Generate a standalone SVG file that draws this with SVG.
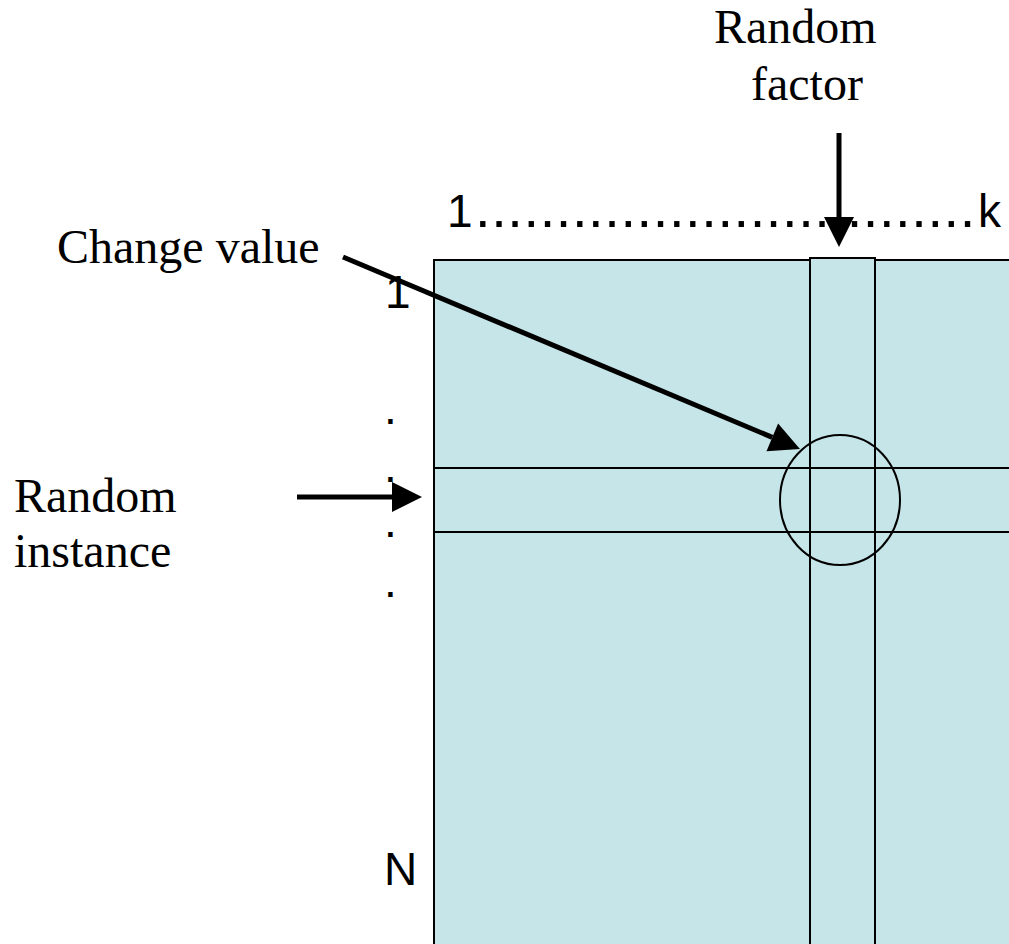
<svg xmlns="http://www.w3.org/2000/svg" width="1009" height="944" viewBox="0 0 1009 944">
<style>
.serif{font-family:"Liberation Serif","Times New Roman",serif;font-size:48px;fill:#000}
.sans{font-family:"Liberation Sans",Arial,sans-serif;font-size:46px;fill:#000}
.dots{font-size:56px;letter-spacing:0.6px}
.cell{fill:#C6E5E8;stroke:#000;stroke-width:2}
.band{fill:none;stroke:#000;stroke-width:2}
.arrow{stroke:#000;stroke-width:5;fill:none;marker-end:url(#ah)}
</style>
<defs>
<marker id="ah" markerUnits="userSpaceOnUse" markerWidth="30" markerHeight="30" refX="0" refY="15" orient="auto" overflow="visible">
<path d="M0,0 L30,15 L0,30 z" fill="#000"/>
</marker>
</defs>
<rect width="1009" height="944" fill="#fff"/>
<g id="matrix">
<rect class="cell" x="434" y="260" width="600" height="700"/>
</g>
<g id="column">
<rect class="cell" x="810" y="258" width="65" height="700"/>
</g>
<g id="row">
<rect class="band" x="434" y="468" width="600" height="64"/>
</g>
<g id="cell-circle">
<ellipse cx="840" cy="500" rx="60" ry="65" fill="none" stroke="#000" stroke-width="2"/>
</g>
<g id="axis-labels">
<text class="sans" x="447" y="227">1</text>
<text class="sans dots" x="475" y="227">...............................</text>
<text class="sans" x="978" y="227">k</text>
<text class="sans" x="385" y="308">1</text>
<text class="sans" x="384" y="424">.</text>
<text class="sans" x="384" y="482">.</text>
<text class="sans" x="384" y="537">.</text>
<text class="sans" x="384" y="597">.</text>
<text class="sans" x="384" y="885">N</text>
</g>
<g id="label-random-factor">
<text class="serif" x="714" y="43">Random</text>
<text class="serif" x="751" y="100">factor</text>
</g>
<g id="label-change-value">
<text class="serif" x="57" y="263">Change value</text>
</g>
<g id="label-random-instance">
<text class="serif" x="14" y="512">Random</text>
<text class="serif" x="14" y="567">instance</text>
</g>
<g id="connectors">
<line class="arrow" x1="839" y1="133" x2="839" y2="217"/>
<line class="arrow" x1="297" y1="497" x2="392" y2="497"/>
<line class="arrow" x1="343" y1="257" x2="772.3" y2="437.4"/>
</g>
</svg>
